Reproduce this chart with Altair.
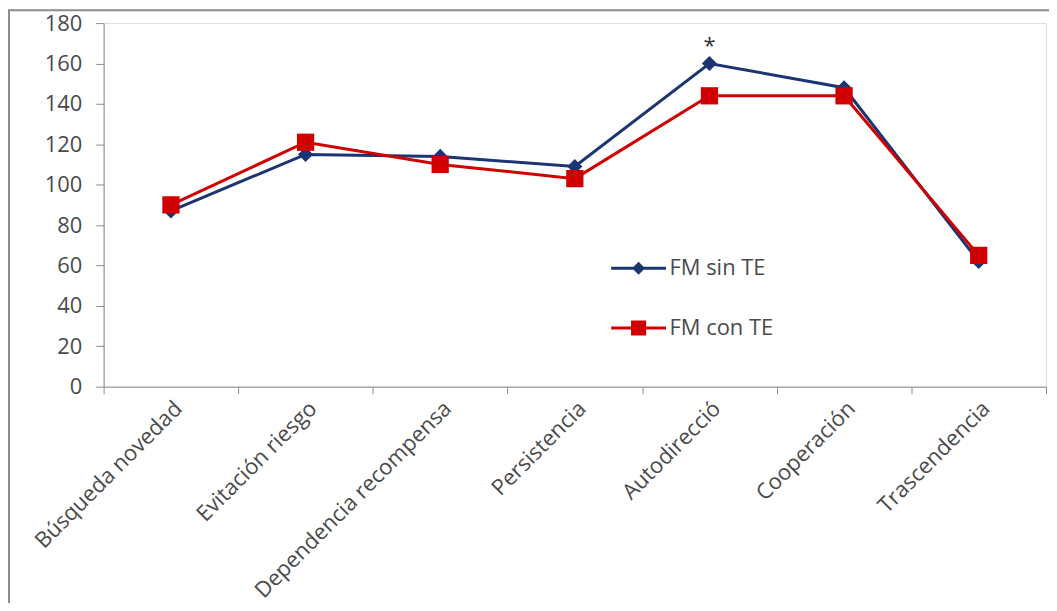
import altair as alt
import pandas as pd

categories = ["Búsqueda novedad", "Evitación riesgo", "Dependencia recompensa",
              "Persistencia", "Autodirecció", "Cooperación", "Trascendencia"]
series_names = ["FM sin TE", "FM con TE"]
sin_te = [87, 115, 114, 109, 160, 148, 62]
con_te = [90, 121, 110, 103, 144, 144, 65]
y_ticks = [0, 20, 40, 60, 80, 100, 120, 140, 160, 180]
star_category = ["Autodirecció"]
star_value = [160]
star_text = ["*"]

colors = ["#1b3572", "#d00000"]
FONT = "Open Sans"
TXT = "#4a4a4a"

rows = []
for s, vals in zip(series_names, [sin_te, con_te]):
    for c, v in zip(categories, vals):
        rows.append({"cat": c, "val": v, "series": s})
df = pd.DataFrame(rows)
star_df = pd.DataFrame({"cat": star_category, "val": star_value, "t": star_text})

x_enc = alt.X("cat:N", sort=categories,
              scale=alt.Scale(type="band", paddingInner=0, paddingOuter=0),
              axis=alt.Axis(title=None, labelAngle=-45, labelFontSize=22, labelFont=FONT,
                            labelColor=TXT, tickBand="extent", tickSize=7, tickColor="#8c8c8c",
                            domainColor="#8c8c8c", labelPadding=4, labelLimit=400))
y_enc = alt.Y("val:Q", scale=alt.Scale(domain=[0, 180], nice=False),
              axis=alt.Axis(title=None, values=y_ticks, grid=False, labelFontSize=22,
                            labelFont=FONT, labelColor=TXT, tickSize=8, tickColor="#8c8c8c",
                            domainColor="#8c8c8c", labelPadding=14))
x_plain = alt.X("cat:N", sort=categories)

frame = alt.Chart(pd.DataFrame({"a": [0]})).mark_rect(
    fill=None, stroke="#8c8c8c", strokeWidth=2
).encode(x=alt.value(-95), x2=alt.value(1000), y=alt.value(-13), y2=alt.value(640))

def series_layers(name, color, shape, size):
    base = alt.Chart(df).transform_filter(alt.datum.series == name)
    ln = base.mark_line(strokeWidth=3, color=color).encode(x=x_enc, y=y_enc)
    pt = base.mark_point(filled=True, opacity=1, shape=shape, size=size, color=color).encode(
        x=x_plain, y="val:Q")
    return ln, pt

ln_sin, pt_sin = series_layers(series_names[0], colors[0], "diamond", 230)
ln_con, pt_con = series_layers(series_names[1], colors[1], "square", 300)

# legend symbols: line + (nearly solid) marker, drawn with a 3px stroke
legend_paths = [
    "M-1,0H1M0,-0.16L0.16,0L0,0.16L-0.16,0ZM0,-0.07L0.07,0L0,0.07L-0.07,0Z",
    "M-1,0H1M-0.22,-0.22H0.22V0.22H-0.22ZM-0.11,-0.11H0.11V0.11H-0.11ZM-0.02,-0.02H0.02V0.02H-0.02Z",
]
leg = alt.Legend(title=None, orient="none", legendX=508, legendY=217, symbolSize=3025,
                 symbolStrokeWidth=3, labelFontSize=22, labelFont=FONT, labelColor=TXT,
                 rowPadding=20, labelOffset=2, padding=0, symbolOpacity=1)
legend_layer = alt.Chart(df).transform_filter("false").mark_point(
    filled=False, opacity=1, strokeWidth=3
).encode(
    x=x_plain, y="val:Q",
    color=alt.Color("series:N", scale=alt.Scale(domain=series_names, range=colors), legend=leg),
    shape=alt.Shape("series:N", scale=alt.Scale(domain=series_names, range=legend_paths), legend=leg),
)

star = alt.Chart(star_df).mark_text(fontSize=22, font=FONT, color="#333333", dy=-18).encode(
    x=x_plain, y="val:Q", text="t:N"
)

chart = alt.layer(frame, ln_sin, ln_con, pt_sin, pt_con, legend_layer, star).properties(
    width=946, height=365,
    autosize=alt.AutoSizeParams(type="none"),
    padding={"left": 96, "top": 14, "right": 3, "bottom": 216},
).configure_view(stroke=None).configure(background="white")

chart.save("out.html", embed_options={"renderer": "svg", "actions": False})
